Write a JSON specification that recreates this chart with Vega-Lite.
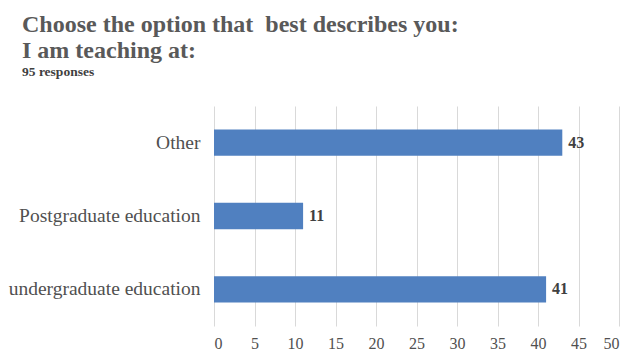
{
  "$schema": "https://vega.github.io/schema/vega-lite/v6.json",
  "width": 405,
  "height": 220,
  "autosize": {"type": "none"},
  "padding": {"left": 214, "top": 106, "right": 10, "bottom": 28},
  "background": "white",
  "title": {
    "text": ["Choose the option that \u00a0best describes you:", "I am teaching at:"],
    "subtitle": "95 responses",
    "anchor": "start",
    "frame": "group",
    "dx": -192,
    "offset": 28,
    "font": "'Liberation Serif', 'Times New Roman', serif",
    "fontSize": 24,
    "fontWeight": 700,
    "color": "#595959",
    "lineHeight": 26,
    "subtitleFont": "'Liberation Serif', 'Times New Roman', serif",
    "subtitleFontSize": 13.5,
    "subtitleFontWeight": 700,
    "subtitleColor": "#404040",
    "subtitlePadding": 2
  },
  "data": {
    "values": [
      {"category": "Other", "count": 43},
      {"category": "Postgraduate education", "count": 11},
      {"category": "undergraduate education", "count": 41}
    ]
  },
  "encoding": {
    "y": {
      "field": "category",
      "type": "nominal",
      "sort": ["Other", "Postgraduate education", "undergraduate education"],
      "scale": {"paddingInner": 0.64, "paddingOuter": 0.32},
      "axis": {
        "title": null,
        "domain": false,
        "ticks": false,
        "labelPadding": 14,
        "labelLimit": 300,
        "labelFont": "'Liberation Serif', serif",
        "labelFontSize": 19.5,
        "labelColor": "#505050",
        "labelFontWeight": "normal"
      }
    },
    "x": {
      "field": "count",
      "type": "quantitative",
      "scale": {"domain": [0, 50], "nice": false},
      "axis": {
        "title": null,
        "values": [0, 5, 10, 15, 20, 25, 30, 35, 40, 45, 50],
        "domain": false,
        "ticks": false,
        "grid": true,
        "gridColor": "#d9d9d9",
        "labelPadding": 9,
        "labelFont": "'Liberation Serif', serif",
        "labelFontSize": 16,
        "labelColor": "#505050",
        "labelFontWeight": "normal"
      }
    }
  },
  "layer": [
    {"mark": {"type": "bar", "color": "#5080c0"}},
    {
      "mark": {
        "type": "text",
        "align": "left",
        "dx": 6,
        "font": "'Liberation Serif', serif",
        "fontSize": 16,
        "fontWeight": 700,
        "color": "#404040"
      },
      "encoding": {"text": {"field": "count", "type": "quantitative"}}
    }
  ],
  "config": {"view": {"stroke": null}}
}
